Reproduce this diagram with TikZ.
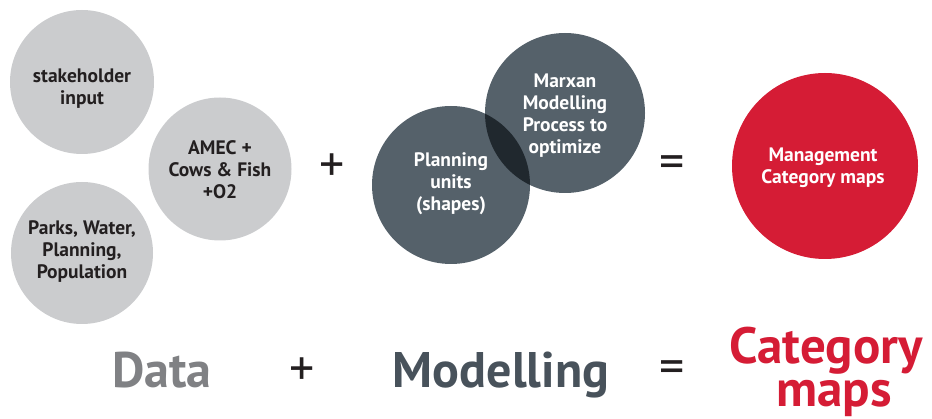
\documentclass[tikz,border=0pt]{standalone}
\usepackage{fontspec}
\setmainfont{PT Sans}
\definecolor{lgray}{HTML}{CBCCCE}
\definecolor{slate}{HTML}{55616A}
\definecolor{slatedark}{HTML}{20282E}
\definecolor{cred}{HTML}{D51C35}
\definecolor{txtdark}{HTML}{231F20}
\definecolor{datagray}{HTML}{808184}
\definecolor{modgray}{HTML}{48525B}
\begin{document}
\begin{tikzpicture}[x=1pt,y=-1pt,
  circ/.style={circle,inner sep=0pt,minimum size=#1},
  graycirc/.style={circ=#1,fill=lgray},
  darkcirc/.style={circ=#1,fill=slate},
  redcirc/.style={circ=#1,fill=cred},
  ctext/.style={align=center,inner sep=0pt,font=\bfseries\fontsize{19.5}{22}\selectfont,text=txtdark},
  wtext/.style={ctext,text=white},
  optext/.style={inner sep=0pt,font=\fontsize{50}{50}\selectfont,text=txtdark},
  bigtext/.style={inner sep=0pt,font=\bfseries\fontsize{50}{45}\selectfont,anchor=base}
]
\useasboundingbox (0,0) rectangle (932,419);
% data circles
\node[graycirc=144pt] (c1) at (82,82) {};
\node[graycirc=142pt] (c2) at (82,253) {};
\node[graycirc=143pt] (c3) at (220,169) {};
\node[ctext] (t1) at (82,89) {stakeholder\\input};
\node[ctext] (t2) at (82,252) {Parks, Water,\\Planning,\\Population};
\node[ctext] (t3) at (220,170) {AMEC +\\Cows \& Fish\\+O2};
% modelling circles
\node[darkcirc=158pt] (m1) at (451,185) {};
\node[darkcirc=160pt] (m2) at (565,113) {};
\begin{scope}
  \clip (451,185) circle (79pt);
  \fill[slatedark] (565,113) circle (80pt);
\end{scope}
\node[wtext] (t4) at (451,184) {Planning\\units\\(shapes)};
\node[wtext] (t5) at (565,116) {Marxan\\Modelling\\Process to\\optimize};
% result circle
\node[redcirc=186pt] (r1) at (825,166) {};
\node[wtext] (t6) at (823,168) {Management\\Category maps};
% operators
\node[optext] (p1) at (332,168) {+};
\node[optext] (e1) at (672,167) {=};
\node[optext] (p2) at (302,372) {+};
\node[optext] (e2) at (672,372) {=};
% bottom labels
\node[bigtext,text=datagray] (b1) at (162,388) {Data};
\node[bigtext,text=modgray] (b2) at (501,388) {Modelling};
\node[bigtext,text=cred,font=\bfseries\fontsize{51}{45}\selectfont] (b3) at (826,364) {Category};
\node[bigtext,text=cred,font=\bfseries\fontsize{51}{45}\selectfont] (b4) at (834,407) {maps};
\end{tikzpicture}
\end{document}
